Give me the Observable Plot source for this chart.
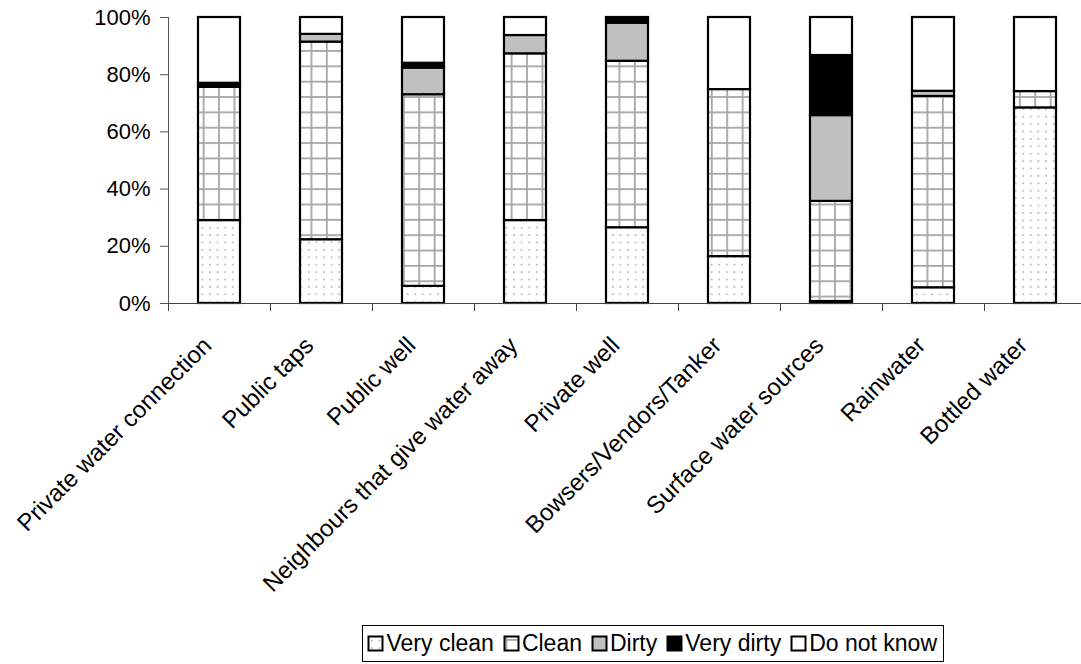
<!DOCTYPE html>
<html>
<head>
<meta charset="utf-8">
<script src="https://cdn.jsdelivr.net/npm/d3@7"></script>
<script src="https://cdn.jsdelivr.net/npm/@observablehq/plot@0.6"></script>
<style>
  body { margin: 0; background: #fff; font-family: "Liberation Sans", Arial, sans-serif; }
  #chart { position: relative; width: 1081px; height: 664px; overflow: hidden; }
  #legend {
    position: absolute; top: 625px; right: 137px; height: 37px; box-sizing: border-box;
    border: 1px solid #000; display: flex; align-items: center; padding: 0 6px 0 4px;
    font-size: 23px; color: #000; background: #fff; white-space: nowrap;
  }
  #legend .item { display: flex; align-items: center; margin-right: 9px; }
  #legend .item:last-child { margin-right: 0; }
  #legend svg { margin-right: 2px; }
</style>
</head>
<body>
<div id="chart"></div>
<script>
// Water sources (x categories)
const sources = [
  "Private water connection", "Public taps", "Public well",
  "Neighbours that give water away", "Private well", "Bowsers/Vendors/Tanker",
  "Surface water sources", "Rainwater", "Bottled water"
];
// Perceived water quality ratings, stacked bottom to top
const ratings = ["Very clean", "Clean", "Dirty", "Very dirty", "Do not know"];

// Share of respondents (%) per source
const veryClean = [29.0, 22.3, 6.0, 29.0, 26.5, 16.4, 0.7, 5.5, 68.4];
const clean     = [46.6, 69.1, 67.0, 58.3, 58.2, 58.4, 35.0, 66.9, 5.7];
const dirty     = [0.0, 2.7, 9.3, 6.4, 13.3, 0.0, 30.0, 1.8, 0.0];
const veryDirty = [1.4, 0.0, 1.7, 0.0, 1.5, 0.0, 21.0, 0.0, 0.0];
const doNotKnow = [23.0, 5.9, 16.0, 6.3, 0.5, 25.2, 13.3, 25.8, 25.9];

const yTicks = [0, 20, 40, 60, 80, 100];

const series = [veryClean, clean, dirty, veryDirty, doNotKnow];
const table = [];
sources.forEach((s, i) => {
  ratings.forEach((r, j) => table.push({ source: s, rating: r, value: series[j][i] }));
});

// Fill for each rating: dotted, gridded, light grey, black, white
const fills = ["url(#pat-dots)", "url(#pat-grid)", "#c0c0c0", "#000000", "#ffffff"];

const W = 1081, H = 622, ML = 168, MR = -5, MT = 17, MB = 319;
const step = (W - ML - MR) / sources.length;
const barPad = 0.588;

// Pattern definitions used by the bars and legend swatches
function patternDefs() {
  const defs = d3.create("svg:defs");
  const dots = defs.append("pattern")
    .attr("id", "pat-dots").attr("patternUnits", "userSpaceOnUse")
    .attr("width", 7.6).attr("height", 7.4).attr("x", 1).attr("y", 2);
  dots.append("rect").attr("width", 7.6).attr("height", 7.4).attr("fill", "#fff");
  dots.append("circle").attr("cx", 3.8).attr("cy", 3.7).attr("r", 0.9).attr("fill", "#a8a8a8");

  const grid = defs.append("pattern")
    .attr("id", "pat-grid").attr("patternUnits", "userSpaceOnUse")
    .attr("width", 15.4).attr("height", 15.35).attr("x", 2.5).attr("y", 4);
  grid.append("rect").attr("width", 15.4).attr("height", 15.35).attr("fill", "#fff");
  grid.append("rect").attr("x", 0).attr("y", 0).attr("width", 1.8).attr("height", 15.35).attr("fill", "#a6a6a6");
  grid.append("rect").attr("x", 0).attr("y", 0).attr("width", 15.4).attr("height", 1.8).attr("fill", "#a6a6a6");
  return defs.node();
}

const chart = Plot.plot({
  width: W, height: H,
  marginLeft: ML, marginRight: MR, marginTop: MT, marginBottom: MB,
  style: { fontFamily: "'Liberation Sans', Arial, sans-serif", fontSize: "22px", color: "#000", background: "#fff", overflow: "visible" },
  x: { domain: sources, paddingInner: barPad, paddingOuter: barPad / 2, label: null },
  y: { domain: [0, 100], label: null },
  color: { domain: ratings, range: fills },
  marks: [
    patternDefs,
    Plot.barY(table, { x: "source", y: "value", fill: "rating", stroke: "#000", strokeWidth: 2.2 }),
    Plot.ruleY([0], { stroke: "#444", strokeWidth: 1 }),
    Plot.ruleX([sources[0]], { x: d => d, y1: 0, y2: 100, dx: -step / 2, stroke: "#555", strokeWidth: 1 }),
    Plot.axisY({ ticks: yTicks, tickFormat: d => d + "%", tickSize: 8, tickPadding: 10, stroke: "#555", fontSize: 22 }),
    Plot.axisX({ tickSize: 8, tickFormat: () => "", dx: -step / 2, stroke: "#444" }),
    Plot.axisX({ tickSize: 0, tickRotate: -45, tickPadding: 38, dx: -12, fontSize: 24 })
  ]
});

const root = document.getElementById("chart");
root.appendChild(chart);

// Legend
const legend = document.createElement("div");
legend.id = "legend";
ratings.forEach((r, j) => {
  const item = document.createElement("div");
  item.className = "item";
  const sw = d3.create("svg").attr("width", 17).attr("height", 17);
  sw.append("rect").attr("x", 1.5).attr("y", 1.5).attr("width", 14).attr("height", 14)
    .attr("fill", fills[j]).attr("stroke", "#000").attr("stroke-width", 2);
  item.appendChild(sw.node());
  const t = document.createElement("span");
  t.textContent = r;
  item.appendChild(t);
  legend.appendChild(item);
});
root.appendChild(legend);
</script>
</body>
</html>
